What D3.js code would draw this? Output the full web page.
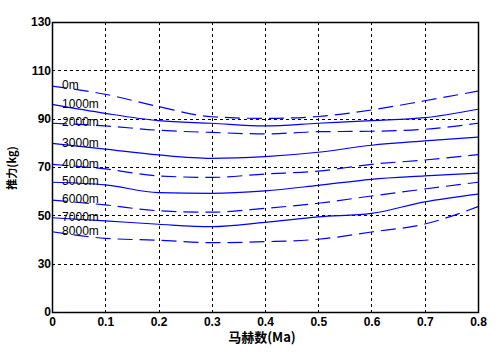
<!DOCTYPE html>
<html>
<head>
<meta charset="utf-8">
<script src="https://cdn.jsdelivr.net/npm/d3@7"></script>
<style>
  body { margin: 0; background: #fff; }
  .tick text { font-family: "Liberation Sans", Arial, sans-serif; font-weight: bold; font-size: 12px; fill: #000; }
</style>
</head>
<body>
<svg class="thrust"></svg>
<script>
// mach numbers
var mach = [0, 0.1, 0.2, 0.3, 0.4, 0.5, 0.6, 0.7, 0.8];

// thrust (kg) per altitude
var altitudes = ["0m", "1000m", "2000m", "3000m", "4000m", "5000m", "6000m", "7000m", "8000m"];
var t0    = [103.5, 100.1, 95.0, 90.8, 90.1, 90.9, 93.6, 97.4, 101.4];
var t1000 = [95.9, 92.2, 89.2, 88.1, 87.0, 88.1, 89.2, 90.4, 93.9];
var t2000 = [88.1, 87.0, 85.2, 84.3, 83.7, 84.6, 84.8, 85.6, 88.1];
var t3000 = [79.8, 77.4, 75.0, 73.6, 74.3, 76.1, 79.0, 80.8, 82.4];
var t4000 = [71.1, 69.2, 66.3, 65.7, 67.1, 68.3, 71.1, 72.9, 75.1];
var t5000 = [63.7, 62.6, 59.4, 59.1, 60.1, 62.4, 64.9, 66.3, 67.5];
var t6000 = [56.3, 54.3, 51.9, 51.3, 52.9, 55.0, 58.0, 60.9, 63.7];
var t7000 = [49.0, 47.7, 46.3, 45.3, 47.1, 49.4, 50.8, 55.6, 58.8];
var t8000 = [43.2, 40.5, 39.7, 38.7, 39.1, 40.1, 43.1, 46.4, 53.6];
var series = [t0, t1000, t2000, t3000, t4000, t5000, t6000, t7000, t8000];

// y ticks: evenly spaced, bottom one is labelled "0"
var yTicks = [10, 30, 50, 70, 90, 110, 130];
var yTickLabels = ["0", "30", "50", "70", "90", "110", "130"];
var xTicks = [0, 0.1, 0.2, 0.3, 0.4, 0.5, 0.6, 0.7, 0.8];
var labelMach = 0.019;

var margin = {top: 22, right: 21, bottom: 40, left: 52},
    width = 499 - margin.left - margin.right,
    height = 352 - margin.top - margin.bottom;

var root = d3.select(".thrust")
    .attr("width", width + margin.left + margin.right)
    .attr("height", height + margin.top + margin.bottom);

var svg = root.append("g")
    .attr("transform", "translate(" + margin.left + "," + margin.top + ")");

var x = d3.scaleLinear().domain([0, 0.8]).range([0, width]);
var y = d3.scaleLinear().domain([10, 130]).range([height, 0]);

// grid
svg.append("g")
    .selectAll("line.vg")
    .data(xTicks.slice(1, -1))
  .enter().append("line")
    .attr("x1", function(d) { return Math.round(x(d)) + 0.5; })
    .attr("x2", function(d) { return Math.round(x(d)) + 0.5; })
    .attr("y1", 0).attr("y2", height)
    .attr("stroke", "#000").attr("stroke-dasharray", "3,3");

svg.append("g")
    .selectAll("line.hg")
    .data(yTicks.slice(1, -1))
  .enter().append("line")
    .attr("y1", function(d) { return Math.round(y(d)) + 0.5; })
    .attr("y2", function(d) { return Math.round(y(d)) + 0.5; })
    .attr("x1", 0).attr("x2", width)
    .attr("stroke", "#000").attr("stroke-dasharray", "3,3");

// curves
var line = d3.line()
    .x(function(d, i) { return x(mach[i]); })
    .y(function(d) { return y(d); })
    .curve(d3.curveMonotoneX);

svg.selectAll("path.curve")
    .data(series)
  .enter().append("path")
    .attr("class", "curve")
    .attr("d", line)
    .attr("fill", "none")
    .attr("stroke", "#0000ff")
    .attr("stroke-width", 1.2)
    .attr("stroke-dasharray", function(d, i) { return i % 2 == 0 ? "15,7" : null; });

// altitude labels
svg.selectAll("text.alt")
    .data(altitudes)
  .enter().append("text")
    .attr("x", x(labelMach))
    .attr("y", function(d, i) { return y(series[i][0]) - 1; })
    .attr("dy", "0.35em")
    .style("font-family", "Liberation Sans, Arial, sans-serif")
    .style("font-size", "12px")
    .attr("fill", "#000")
    .text(function(d) { return d; });

// frame
svg.append("rect")
    .attr("x", 0.5).attr("y", 0.5)
    .attr("width", width).attr("height", height)
    .attr("fill", "none").attr("stroke", "#000").attr("stroke-width", 1.5);

// axes
var xAxis = d3.axisBottom(x).tickValues(xTicks).tickSize(0).tickPadding(5)
    .tickFormat(function(d) { return d == 0 ? "0" : d3.format(".1f")(d); });
var yAxis = d3.axisLeft(y).tickValues(yTicks).tickSize(0).tickPadding(1)
    .tickFormat(function(d, i) { return yTickLabels[i]; });

svg.append("g")
    .attr("transform", "translate(0," + height + ")")
    .call(xAxis)
    .call(function(g) { g.select(".domain").remove(); });

svg.append("g")
    .call(yAxis)
    .call(function(g) { g.select(".domain").remove(); });

// axis titles
svg.append("text")
    .attr("x", 210).attr("y", height + 30)
    .style("text-anchor", "middle")
    .style("font-family", "Noto Sans CJK SC, sans-serif")
    .style("font-weight", "bold")
    .style("font-size", "13px")
    .text("马赫数(Ma)");

svg.append("text")
    .attr("transform", "translate(-40," + 146 + ") rotate(-90)")
    .attr("dy", "0.35em")
    .style("text-anchor", "middle")
    .style("font-family", "Noto Sans CJK SC, sans-serif")
    .style("font-weight", "bold")
    .style("font-size", "11px")
    .text("推力(kg)");
</script>
</body>
</html>
